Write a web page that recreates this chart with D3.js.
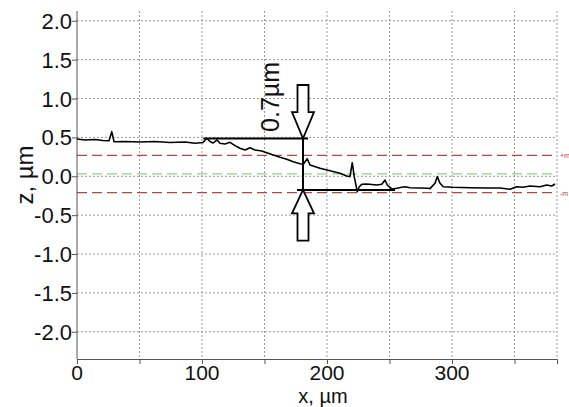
<!DOCTYPE html>
<html><head><meta charset="utf-8">
<script src="https://cdn.jsdelivr.net/npm/d3@7"></script>
<style>body{margin:0;background:#fff}svg{display:block}text{font-family:"Liberation Sans",Arial,sans-serif}</style>
</head><body><svg id="c" width="569" height="407"></svg>
<script>
// profile data (x in µm, z in µm)
const profileX = [0,6.4,14.4,20.8,25.6,27.8,29.6,38.4,50.4,62.4,74.4,86.4,94.4,100.8,103.8,106.4,108.8,112,114.4,118.4,122.4,126.4,130.4,134.4,138.4,142.4,147.8,151.8,157,162.4,167.8,173,178.4,181,184.2,186.4,194.4,202.4,210.4,215.8,218.4,220.2,221.8,224.2,225.8,227.8,231.8,239.8,243.8,246.4,248.2,251.8,255.8,259.8,262.4,266.4,274.4,281,282.4,286.4,288.2,290.4,293,300.8,314.4,328,338.4,346.4,351.8,356.8,362.4,370.4,375.8,379.8,382.4];
const profileZ = [0.48,0.467,0.473,0.46,0.458,0.574,0.445,0.448,0.441,0.448,0.435,0.441,0.424,0.435,0.489,0.448,0.428,0.467,0.424,0.415,0.437,0.394,0.36,0.338,0.368,0.338,0.325,0.304,0.274,0.244,0.219,0.188,0.162,0.154,0.226,0.145,0.103,0.072,0.039,0.004,-0.005,0.175,-0.005,-0.198,-0.134,-0.103,-0.099,-0.112,-0.103,-0.048,-0.112,-0.163,-0.154,-0.141,-0.134,-0.147,-0.15,-0.154,-0.159,-0.09,-0.005,-0.09,-0.134,-0.141,-0.147,-0.15,-0.15,-0.167,-0.134,-0.141,-0.125,-0.134,-0.112,-0.125,-0.099];
const yTicks = [-2.0,-1.5,-1.0,-0.5,0.0,0.5,1.0,1.5,2.0];
const xTicks = [0,50,100,150,200,250,300,350];
const xLabels = [0,100,200,300];
const refLevels = [0.27, -0.21];   // +m / -m red dashed
const refLabels = ["+m","-m"];
const meanLevel = [0.03];          // green dashed
const stepTop = 0.486, stepBottom = -0.176, stepX = 180.8;
const stepTopSpan = [101, 184.8];
const stepBottomSpan = [176, 254.4];
const arrowTop = [1.174, 0.826];   // shaft top, head base
const arrowBottom = [-0.828, -0.476];
const stepLabel = "0.7µm";
const labelZ = 1.02;

const svg = d3.select("#c");
const L=77, R=557, T=11, B=359;
const x = d3.scaleLinear().domain([0,384]).range([L,R]);
const y = d3.scaleLinear().domain([-2.35,2.126]).range([B,T]);
const gridCol="#9a9a9a";

// grid
svg.append("g").selectAll("line").data(yTicks).join("line")
 .attr("x1",L).attr("x2",R).attr("y1",d=>y(d)).attr("y2",d=>y(d))
 .attr("stroke",gridCol).attr("stroke-width",1).attr("stroke-dasharray","2,2");
svg.append("g").selectAll("line").data(xTicks.filter(d=>d>0)).join("line")
 .attr("x1",d=>x(d)).attr("x2",d=>x(d)).attr("y1",T).attr("y2",B)
 .attr("stroke",gridCol).attr("stroke-width",1).attr("stroke-dasharray","2,2");
svg.append("line").attr("x1",R).attr("x2",R).attr("y1",T).attr("y2",B)
 .attr("stroke",gridCol).attr("stroke-dasharray","2,2");

// reference lines
svg.append("g").selectAll("line").data(refLevels).join("line")
 .attr("x1",L).attr("x2",R).attr("y1",d=>y(d)).attr("y2",d=>y(d))
 .attr("stroke","#b04848").attr("stroke-width",1.2).attr("stroke-dasharray","10,5");
svg.append("g").selectAll("text").data(refLevels).join("text")
 .attr("x",R+3).attr("y",d=>y(d)+3).attr("font-size",7).attr("fill","#b04848")
 .text((d,i)=>refLabels[i]);
svg.append("g").selectAll("line").data(meanLevel).join("line")
 .attr("x1",L).attr("x2",R).attr("y1",d=>y(d)).attr("y2",d=>y(d))
 .attr("stroke","#9cc79c").attr("stroke-width",1.2).attr("stroke-dasharray","10,5");

// axes
const ax = svg.append("g").attr("transform",`translate(0,${B})`)
 .call(d3.axisBottom(x).tickValues(xTicks).tickSize(5).tickFormat(""));
ax.select(".domain").attr("stroke","#555");
ax.selectAll(".tick line").attr("stroke","#555");
const ay = svg.append("g").attr("transform",`translate(${L},0)`)
 .call(d3.axisLeft(y).tickValues(yTicks).tickSize(5).tickFormat(""));
ay.select(".domain").attr("stroke","#555").attr("d",`M0,${T}V${B}`);
ay.selectAll(".tick line").attr("stroke","#555");

svg.append("g").selectAll("text").data(yTicks).join("text")
 .attr("x",L-5).attr("y",d=>y(d)+8).attr("text-anchor","end")
 .attr("font-size",22).attr("fill","#111").text(d=>d3.format(".1f")(d).replace("−","-"));
svg.append("g").selectAll("text").data(xLabels).join("text")
 .attr("x",d=>x(d)).attr("y",379.5).attr("text-anchor","middle")
 .attr("font-size",21).attr("fill","#111").text(d=>d);
svg.append("text").attr("x",323).attr("y",402.5).attr("text-anchor","middle")
 .attr("font-size",20).attr("fill","#111").text("x, µm");
svg.append("text").attr("transform",`translate(33,175) rotate(-90)`).attr("text-anchor","middle")
 .attr("font-size",24).attr("fill","#111").text("z, µm");

// profile
const line = d3.line().x((d,i)=>x(profileX[i])).y(d=>y(d));
svg.append("path").datum(profileZ).attr("d",line).attr("fill","none")
 .attr("stroke","#000").attr("stroke-width",1.6).attr("stroke-linejoin","round");

// step annotation
const ann = svg.append("g").attr("stroke","#000").attr("stroke-width",2).attr("fill","none");
ann.append("line").attr("x1",x(stepTopSpan[0])).attr("x2",x(stepTopSpan[1])).attr("y1",y(stepTop)).attr("y2",y(stepTop));
ann.append("line").attr("x1",x(stepBottomSpan[0])).attr("x2",x(stepBottomSpan[1])).attr("y1",y(stepBottom)).attr("y2",y(stepBottom));
ann.append("line").attr("x1",x(stepX)).attr("x2",x(stepX)).attr("y1",y(stepTop)).attr("y2",y(stepBottom));
function arrow(shaftEnd, headBase, tip){
  const cx=x(stepX), sw=5.5, hw=11;
  const p=[[cx-sw,y(shaftEnd)],[cx+sw,y(shaftEnd)],[cx+sw,y(headBase)],[cx+hw,y(headBase)],[cx,y(tip)],[cx-hw,y(headBase)],[cx-sw,y(headBase)]];
  ann.append("path").attr("d","M"+p.join("L")+"Z").attr("fill","#fff").attr("stroke-width",1.8);
}
arrow(arrowTop[0],arrowTop[1],stepTop);
arrow(arrowBottom[0],arrowBottom[1],stepBottom);
svg.append("text").attr("transform",`translate(${x(stepX)-24},${y(labelZ)}) rotate(-90)`)
 .attr("text-anchor","middle").attr("font-size",25).attr("fill","#111").text(stepLabel);
</script></body></html>
